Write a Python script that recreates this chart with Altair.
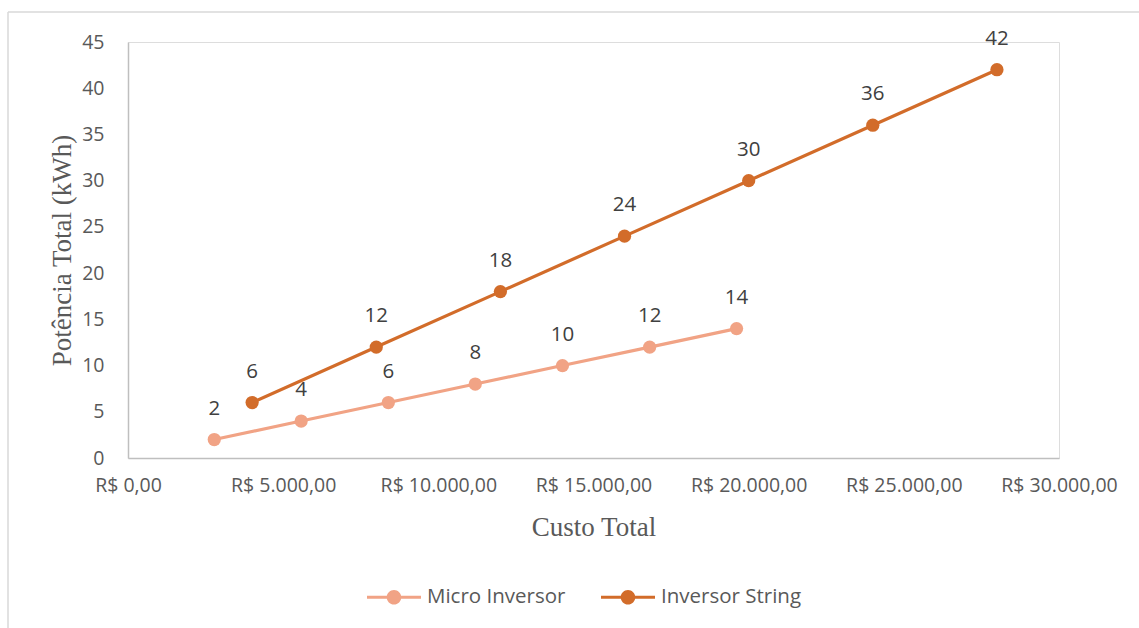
import altair as alt
import pandas as pd

# Series and values
series_names = ["Micro Inversor", "Inversor String"]
series_colors = ["#F1A385", "#D26C2A"]

micro_custo = [2780, 5580, 8390, 11190, 14000, 16810, 19610]
micro_potencia = [2, 4, 6, 8, 10, 12, 14]

string_custo = [4000, 8000, 12000, 16000, 20000, 24000, 28000]
string_potencia = [6, 12, 18, 24, 30, 36, 42]

x_ticks = [0, 5000, 10000, 15000, 20000, 25000, 30000]
y_ticks = [0, 5, 10, 15, 20, 25, 30, 35, 40, 45]

rows = []
for c, p in zip(micro_custo, micro_potencia):
    rows.append({"serie": series_names[0], "custo": c, "potencia": p})
for c, p in zip(string_custo, string_potencia):
    rows.append({"serie": series_names[1], "custo": c, "potencia": p})
df = pd.DataFrame(rows)

W, H = 931, 416
LABEL_FONT = "Open Sans"
TITLE_FONT = "Liberation Serif"

# legend glyph: a short line with a dot in the middle
legend_symbol = (
    "M-1,-0.06H1V0.06H-1Z "
    "M-0.27,0A0.27,0.27 0 1,1 0.27,0A0.27,0.27 0 1,1 -0.27,0Z"
)

color = alt.Color(
    "serie:N",
    scale=alt.Scale(domain=series_names, range=series_colors),
    legend=alt.Legend(
        title=None,
        orient="none",
        direction="horizontal",
        legendX=239,
        legendY=528,
        symbolType=legend_symbol,
        symbolSize=2916,
        symbolStrokeWidth=0,
        labelFont=LABEL_FONT,
        labelFontSize=20.5,
        labelColor="#595959",
        labelOffset=6,
        columnPadding=35,
    ),
)

x = alt.X(
    "custo:Q",
    scale=alt.Scale(domain=[0, 30000], nice=False),
    axis=alt.Axis(
        values=x_ticks,
        format="$,.2f",
        title="Custo Total",
        titleFont=TITLE_FONT,
        titleFontSize=27,
        titleFontWeight="normal",
        titleColor="#595959",
        titleX=W / 2,
        titleY=69,
        titleBaseline="middle",
        labelFont=LABEL_FONT,
        labelFontSize=19.5,
        labelColor="#595959",
        labelPadding=18,
        labelFlush=False,
        labelOverlap=False,
        domainColor="#BFBFBF",
        domainWidth=1.5,
        ticks=False,
        grid=False,
    ),
)

y = alt.Y(
    "potencia:Q",
    scale=alt.Scale(domain=[0, 45], nice=False),
    axis=alt.Axis(
        values=y_ticks,
        title="Potência Total (kWh)",
        titleFont=TITLE_FONT,
        titleFontSize=27,
        titleFontWeight="normal",
        titleColor="#595959",
        titleAngle=270,
        titleX=-66,
        titleY=H / 2,
        titleAlign="center",
        titleBaseline="middle",
        labelFont=LABEL_FONT,
        labelFontSize=19.5,
        labelColor="#595959",
        labelPadding=24,
        labelOverlap=False,
        domainColor="#BFBFBF",
        domainWidth=1.5,
        ticks=False,
        grid=False,
    ),
)

base = alt.Chart(df)

lines = base.mark_line(strokeWidth=3.2).encode(
    x=x, y=y, color=color, detail="serie:N"
)
points = base.mark_circle(size=175, opacity=1).encode(
    x=x, y=y, color=color
)
labels = base.mark_text(
    dy=-31, fontSize=20.5, font=LABEL_FONT, color="#404040"
).encode(x=x, y=y, text=alt.Text("potencia:Q", format="d"))

# light frame around the whole figure
frame_src = alt.Data(values=[{"k": 1}])
frame_left = alt.Chart(frame_src).mark_rule(color="#D9D9D9", strokeWidth=1.5).encode(
    x=alt.value(-120), y=alt.value(-30), y2=alt.value(600)
)
frame_top = alt.Chart(frame_src).mark_rule(color="#D9D9D9", strokeWidth=1.5).encode(
    x=alt.value(-120), x2=alt.value(1030), y=alt.value(-30)
)

chart = (
    alt.layer(frame_left, frame_top, lines, points, labels)
    .properties(
        width=W,
        height=H,
        padding={"left": 128, "top": 42, "right": 80, "bottom": 170},
        autosize=alt.AutoSizeParams(type="none"),
        background="white",
    )
    .configure_view(stroke=None)
    .configure(
        locale={
            "number": {
                "decimal": ",",
                "thousands": ".",
                "grouping": [3],
                "currency": ["R$ ", ""],
            }
        }
    )
)

chart.save("out.html", embed_options={"renderer": "svg", "actions": False})
